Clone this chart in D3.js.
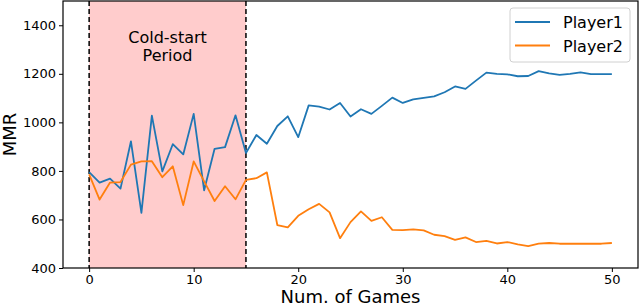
<!DOCTYPE html>
<html>
<head>
<meta charset="utf-8">
<script src="https://cdn.jsdelivr.net/npm/d3@7"></script>
<style>
  body { margin: 0; background: #fff; }
  svg { font-family: "DejaVu Sans", sans-serif; }
</style>
</head>
<body>
<div id="chart"></div>
<script>
// games played
var games = d3.range(0, 51);
// MMR per game
var player1 = [795, 752, 768, 727, 922, 627, 1028, 798, 910, 868,
               1035, 720, 891, 898, 1029, 874, 948, 912, 985, 1025,
               939, 1070, 1065, 1053, 1080, 1024, 1054, 1035, 1068, 1102,
               1080, 1095, 1101, 1107, 1124, 1148, 1138, 1172, 1205, 1200,
               1198, 1190, 1191, 1211, 1202, 1196, 1200, 1206, 1199, 1199, 1199];
var player2 = [786, 682, 752, 754, 826, 839, 840, 774, 819, 659,
               839, 757, 676, 737, 683, 763, 770, 794, 577, 567,
               615, 642, 664, 629, 523, 589, 633, 594, 609, 557,
               556, 559, 555, 537, 531, 516, 526, 507, 512, 501,
               507, 497, 490, 500, 503, 500, 500, 500, 500, 500, 503];
var seriesNames = ["Player1", "Player2"];
var seriesColors = ["#1f77b4", "#ff7f0e"];
var xTicks = [0, 10, 20, 30, 40, 50];
var yTicks = [400, 600, 800, 1000, 1200, 1400];
var coldStart = [0, 15];

var W = 640, H = 307;
var pLeft = 63, pRight = 638, pTop = 1, pBottom = 268;

var svg = d3.select("#chart").append("svg")
    .attr("width", W)
    .attr("height", H);

var x = d3.scaleLinear().domain([-2.5, 52.5]).range([pLeft, pRight]);
var y = d3.scaleLinear().domain([400, 1500]).range([pBottom, pTop]);

// shaded cold-start band
svg.append("rect")
    .attr("x", x(coldStart[0]))
    .attr("y", pTop)
    .attr("width", x(coldStart[1]) - x(coldStart[0]))
    .attr("height", pBottom - pTop)
    .attr("fill", "#ffcccc");

svg.selectAll(".vline")
    .data(coldStart)
    .enter()
    .append("line")
    .attr("class", "vline")
    .attr("x1", function(d){ return x(d); })
    .attr("x2", function(d){ return x(d); })
    .attr("y1", pTop)
    .attr("y2", pBottom)
    .attr("stroke", "#000")
    .attr("stroke-width", 1.5)
    .attr("stroke-dasharray", "5,3");

var label = svg.append("text")
    .attr("x", x(7.5))
    .attr("text-anchor", "middle")
    .attr("font-size", 16)
    .attr("fill", "#000");
label.append("tspan").attr("x", x(7.5)).attr("y", 43).text("Cold-start");
label.append("tspan").attr("x", x(7.5)).attr("y", 61).text("Period");

// lines
var line = d3.line()
    .x(function(d, i){ return x(games[i]); })
    .y(function(d){ return y(d); });

[player1, player2].forEach(function(vals, i){
    svg.append("path")
        .datum(vals)
        .attr("d", line)
        .attr("fill", "none")
        .attr("stroke", seriesColors[i])
        .attr("stroke-width", 1.8)
        .attr("stroke-linejoin", "round");
});

// axes
var xAxis = d3.axisBottom(x).tickValues(xTicks).tickSize(4).tickPadding(3);
var yAxis = d3.axisLeft(y).tickValues(yTicks).tickSize(4).tickPadding(3).tickFormat(d3.format("d"));

var gx = svg.append("g").attr("transform", "translate(0," + pBottom + ")").call(xAxis);
var gy = svg.append("g").attr("transform", "translate(" + pLeft + ",0)").call(yAxis);
[gx, gy].forEach(function(g){
    g.select(".domain").remove();
    g.selectAll("text").attr("font-size", 13).attr("font-family", "DejaVu Sans").attr("fill", "#000");
    g.selectAll("line").attr("stroke", "#000");
});

// frame
svg.append("rect")
    .attr("x", pLeft)
    .attr("y", pTop)
    .attr("width", pRight - pLeft)
    .attr("height", pBottom - pTop)
    .attr("fill", "none")
    .attr("stroke", "#000")
    .attr("stroke-width", 1.2);

svg.append("text")
    .attr("x", (pLeft + pRight) / 2)
    .attr("y", 303)
    .attr("text-anchor", "middle")
    .attr("font-size", 18)
    .text("Num. of Games");

svg.append("text")
    .attr("transform", "translate(16," + ((pTop + pBottom) / 2) + ") rotate(-90)")
    .attr("text-anchor", "middle")
    .attr("font-size", 18)
    .text("MMR");

// legend
var legend = svg.append("g");
legend.append("rect")
    .attr("x", 510).attr("y", 8)
    .attr("width", 120).attr("height", 54)
    .attr("rx", 3)
    .attr("fill", "#fff")
    .attr("fill-opacity", 0.8)
    .attr("stroke", "#d0d0d0");
seriesNames.forEach(function(name, i){
    var yy = 22 + i * 23.5;
    legend.append("line")
        .attr("x1", 515).attr("x2", 550)
        .attr("y1", yy).attr("y2", yy)
        .attr("stroke", seriesColors[i])
        .attr("stroke-width", 1.8);
    legend.append("text")
        .attr("x", 563).attr("y", yy + 6)
        .attr("font-size", 16)
        .text(name);
});
</script>
</body>
</html>
